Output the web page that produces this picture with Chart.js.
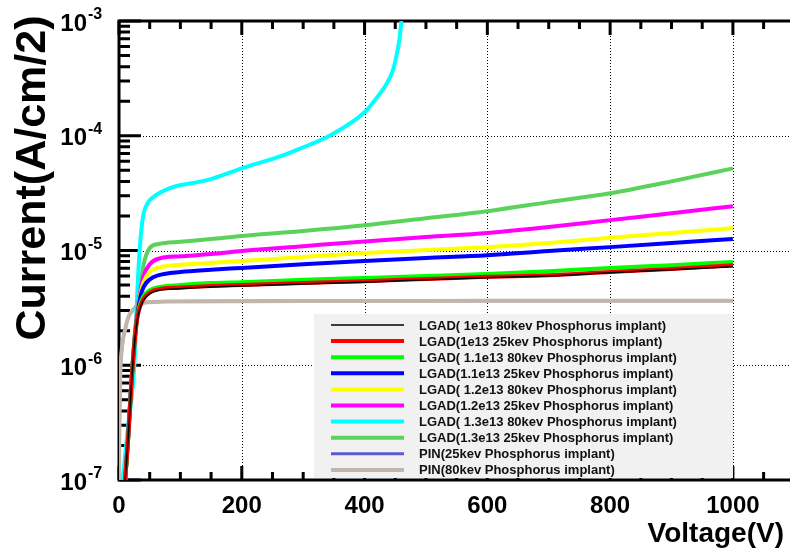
<!DOCTYPE html>
<html>
<head>
<meta charset="utf-8">
<script src="https://cdn.jsdelivr.net/npm/chart.js@4.4.1/dist/chart.umd.min.js"></script>
<style>
  html, body { margin: 0; padding: 0; background: #fff; overflow: hidden; }
  #wrap { width: 790px; height: 555px; }
</style>
</head>
<body>
<div id="wrap"><canvas id="ivChart" width="790" height="555"></canvas></div>
<script>
// voltages (V) shared by most LGAD curves
const lgadVolts = [10, 15, 20, 25, 30, 35, 40, 50, 65, 100, 150, 200, 300, 400, 500, 600, 700, 800, 900, 1000];

// currents (A/cm2)
const lgad1e13_80 = [1e-7, 2.3e-7, 6.5e-7, 1.5e-6, 2.5e-6, 3.2e-6, 3.7e-6, 4.2e-6, 4.5e-6, 4.65e-6, 4.8e-6, 4.9e-6, 5.1e-6, 5.3e-6, 5.55e-6, 5.8e-6, 6.0e-6, 6.4e-6, 6.8e-6, 7.2e-6];
const lgad1e13_25 = [1e-7, 2.3e-7, 6.5e-7, 1.5e-6, 2.6e-6, 3.3e-6, 3.8e-6, 4.3e-6, 4.6e-6, 4.75e-6, 4.9e-6, 5.0e-6, 5.2e-6, 5.4e-6, 5.65e-6, 5.9e-6, 6.1e-6, 6.5e-6, 6.9e-6, 7.45e-6];
const lgad11e13_80 = [1e-7, 2.3e-7, 6.5e-7, 1.5e-6, 2.7e-6, 3.5e-6, 4.0e-6, 4.5e-6, 4.8e-6, 5.0e-6, 5.2e-6, 5.3e-6, 5.55e-6, 5.77e-6, 6.0e-6, 6.25e-6, 6.6e-6, 7.05e-6, 7.45e-6, 7.95e-6];
const lgad11e13_25 = [1e-7, 2.4e-7, 6.8e-7, 1.55e-6, 2.8e-6, 4.0e-6, 4.8e-6, 5.6e-6, 6.1e-6, 6.5e-6, 6.8e-6, 7.05e-6, 7.6e-6, 8.1e-6, 8.6e-6, 9.1e-6, 9.9e-6, 1.07e-5, 1.16e-5, 1.26e-5];
const lgad12e13_80 = [1e-7, 2.4e-7, 6.8e-7, 1.6e-6, 2.9e-6, 4.2e-6, 5.3e-6, 6.5e-6, 7.1e-6, 7.5e-6, 7.8e-6, 8.1e-6, 8.8e-6, 9.5e-6, 1.01e-5, 1.07e-5, 1.16e-5, 1.29e-5, 1.42e-5, 1.57e-5];
const lgad12e13_25 = [1e-7, 2.5e-7, 7e-7, 1.6e-6, 3.0e-6, 4.5e-6, 6.0e-6, 7.6e-6, 8.5e-6, 8.9e-6, 9.3e-6, 9.9e-6, 1.09e-5, 1.2e-5, 1.31e-5, 1.42e-5, 1.6e-5, 1.84e-5, 2.11e-5, 2.43e-5];
const lgad13e13_25 = [1e-7, 2.5e-7, 7e-7, 1.7e-6, 3.1e-6, 5.0e-6, 7.5e-6, 1.05e-5, 1.14e-5, 1.19e-5, 1.26e-5, 1.34e-5, 1.48e-5, 1.66e-5, 1.91e-5, 2.2e-5, 2.64e-5, 3.15e-5, 4.0e-5, 5.2e-5];

// the 1.3e13 80keV device breaks down early
const cyanVolts = [6, 15, 25, 29, 34, 39, 47, 55, 83, 143, 200, 267, 294, 343, 400, 420, 436, 446, 452, 457, 460];
const lgad13e13_80 = [1e-7, 3e-7, 1e-6, 3.5e-6, 1.07e-5, 1.95e-5, 2.6e-5, 2.9e-5, 3.5e-5, 4.1e-5, 5.2e-5, 6.75e-5, 7.7e-5, 1.0e-4, 1.6e-4, 2.15e-4, 2.84e-4, 3.7e-4, 5.0e-4, 7.0e-4, 1e-3];

// PIN diodes
const pinVolts = [0, 1, 2, 5, 10, 15, 23, 40, 80, 200, 400, 600, 800, 1000];
const pin25 = [1e-7, 4e-7, 8e-7, 1.45e-6, 2.05e-6, 2.6e-6, 3.05e-6, 3.5e-6, 3.6e-6, 3.62e-6, 3.63e-6, 3.65e-6, 3.65e-6, 3.65e-6];
const pin80 = [1e-7, 4e-7, 8e-7, 1.45e-6, 2.05e-6, 2.6e-6, 3.05e-6, 3.5e-6, 3.6e-6, 3.62e-6, 3.63e-6, 3.64e-6, 3.65e-6, 3.65e-6];

// axis ticks
const xLabels = [0, 200, 400, 600, 800, 1000];
const xGrid = [200, 400, 600, 800, 1000];
const yDecades = [1e-7, 1e-6, 1e-5, 1e-4, 1e-3];
const yExponents = [-7, -6, -5, -4, -3];
const yGrid = [1e-6, 1e-5, 1e-4];

const pts = (xs, ys) => xs.map((v, i) => ({ x: v, y: ys[i] }));

const series = [
  { label: 'LGAD( 1e13 80kev Phosphorus implant)', v: lgadVolts, i: lgad1e13_80, color: '#000000', w: 1.5 },
  { label: 'LGAD(1e13 25kev Phosphorus implant)', v: lgadVolts, i: lgad1e13_25, color: '#ff0000', w: 4 },
  { label: 'LGAD( 1.1e13 80kev Phosphorus implant)', v: lgadVolts, i: lgad11e13_80, color: '#00ff00', w: 4 },
  { label: 'LGAD(1.1e13 25kev Phosphorus implant)', v: lgadVolts, i: lgad11e13_25, color: '#0000ff', w: 4 },
  { label: 'LGAD( 1.2e13 80kev Phosphorus implant)', v: lgadVolts, i: lgad12e13_80, color: '#ffff00', w: 4 },
  { label: 'LGAD(1.2e13 25kev Phosphorus implant)', v: lgadVolts, i: lgad12e13_25, color: '#ff00ff', w: 4 },
  { label: 'LGAD( 1.3e13 80kev Phosphorus implant)', v: cyanVolts, i: lgad13e13_80, color: '#00ffff', w: 4 },
  { label: 'LGAD(1.3e13 25kev Phosphorus implant)', v: lgadVolts, i: lgad13e13_25, color: '#5bd35b', w: 4 },
  { label: 'PIN(25kev Phosphorus implant)', v: pinVolts, i: pin25, color: '#5a5ad6', w: 3, order: 1 },
  { label: 'PIN(80kev Phosphorus implant)', v: pinVolts, i: pin80, color: '#c2b6aa', w: 4 }
];

const FONT = '"Liberation Sans", Arial, Helvetica, sans-serif';

const frame = {
  id: 'frame',
  beforeDatasetsDraw(chart) {
    const { ctx, chartArea: a, scales: { x, y } } = chart;
    ctx.save();
    ctx.strokeStyle = '#000';

    // dotted grid
    ctx.lineWidth = 1;
    ctx.setLineDash([1, 2]);
    ctx.beginPath();
    xGrid.forEach(v => {
      const px = Math.round(x.getPixelForValue(v)) + 0.5;
      ctx.moveTo(px, a.top); ctx.lineTo(px, a.bottom);
    });
    yGrid.forEach(v => {
      const py = Math.round(y.getPixelForValue(v)) + 0.5;
      ctx.moveTo(a.left, py); ctx.lineTo(a.right, py);
    });
    ctx.stroke();
    ctx.setLineDash([]);

    // frame
    ctx.lineWidth = 3;
    ctx.beginPath();
    ctx.moveTo(a.right, a.top); ctx.lineTo(a.left, a.top);
    ctx.lineTo(a.left, a.bottom); ctx.lineTo(a.right, a.bottom);
    ctx.stroke();

    // x ticks, every 50 V
    ctx.beginPath();
    for (let v = 0; v <= x.max; v += 50) {
      const px = x.getPixelForValue(v);
      const len = v % 200 === 0 ? 14 : 8;
      ctx.moveTo(px, a.bottom); ctx.lineTo(px, a.bottom - len);
      ctx.moveTo(px, a.top); ctx.lineTo(px, a.top + len);
    }
    // y ticks, 1..9 per decade
    yDecades.forEach(d => {
      for (let k = 1; k <= 9; k++) {
        const val = d * k;
        if (val > y.max * 1.0001) break;
        const py = y.getPixelForValue(val);
        const len = k === 1 ? 22 : 11;
        ctx.moveTo(a.left, py); ctx.lineTo(a.left + len, py);
      }
    });
    ctx.stroke();
    ctx.restore();
  },
  afterDatasetsDraw(chart) {
    // legend box
    const { ctx } = chart;
    const bx = 314, by = 314, bw = 419, bh = 164;
    ctx.save();
    ctx.fillStyle = '#f1f1f1';
    ctx.fillRect(bx, by, bw, bh);
    ctx.font = 'bold 13px ' + FONT;
    ctx.textBaseline = 'middle';
    chart.data.datasets.forEach((ds, i) => {
      const cy = 325 + i * 16.1;
      ctx.strokeStyle = ds.borderColor;
      ctx.lineWidth = ds.borderWidth;
      ctx.beginPath();
      ctx.moveTo(331, cy); ctx.lineTo(404, cy);
      ctx.stroke();
      ctx.fillStyle = '#111';
      ctx.fillText(ds.label, 419, cy + 1);
    });
    ctx.restore();
  },
  afterDraw(chart) {
    const { ctx, chartArea: a, scales: { x, y } } = chart;
    ctx.save();
    ctx.fillStyle = '#000';

    // x tick labels
    ctx.font = 'bold 24px ' + FONT;
    ctx.textAlign = 'center';
    ctx.textBaseline = 'middle';
    xLabels.forEach(v => ctx.fillText(String(v), x.getPixelForValue(v), 506));

    // y tick labels 10^n
    yDecades.forEach((d, i) => {
      const py = y.getPixelForValue(d);
      ctx.font = 'bold 24px ' + FONT;
      ctx.textAlign = 'right';
      ctx.fillText('10', 87, py + 3);
      ctx.font = 'bold 16px ' + FONT;
      ctx.textAlign = 'left';
      ctx.fillText(String(yExponents[i]), 88, py - 6);
    });

    // axis titles
    ctx.font = 'bold 28px ' + FONT;
    ctx.textAlign = 'right';
    ctx.fillText('Voltage(V)', 784, 534);

    ctx.translate(33, 178);
    ctx.rotate(-Math.PI / 2);
    ctx.font = 'bold 43px ' + FONT;
    ctx.textAlign = 'center';
    ctx.fillText('Current(A/cm/2)', 0, 0);
    ctx.restore();
  }
};

new Chart(document.getElementById('ivChart').getContext('2d'), {
  type: 'line',
  data: {
    datasets: series.map(s => ({
      label: s.label,
      data: pts(s.v, s.i),
      borderColor: s.color,
      backgroundColor: s.color,
      borderWidth: s.w,
      pointRadius: 0,
      fill: false,
      cubicInterpolationMode: 'monotone',
      order: s.order || 0
    }))
  },
  options: {
    responsive: false,
    animation: false,
    events: [],
    layout: { padding: { left: 119, top: 21, right: 0, bottom: 75 } },
    scales: {
      x: { type: 'linear', min: 0, max: 1093, display: false },
      y: { type: 'logarithmic', min: 1e-7, max: 1e-3, display: false }
    },
    plugins: { legend: { display: false }, tooltip: { enabled: false } }
  },
  plugins: [frame]
});
</script>
</body>
</html>
